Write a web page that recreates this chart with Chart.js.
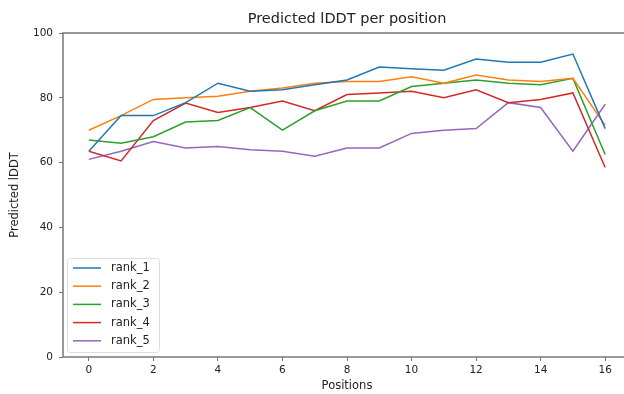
<!DOCTYPE html>
<html>
<head>
<meta charset="utf-8">
<script src="https://cdn.jsdelivr.net/npm/chart.js@4/dist/chart.umd.min.js"></script>
<style>
    html, body { margin: 0; padding: 0; background: #fff; overflow: hidden; }
    #wrap { position: relative; width: 640px; height: 394px; }
</style>
</head>
<body>
<div id="wrap"><canvas id="plddtChart"></canvas></div>
<script>
const positions = [0, 1, 2, 3, 4, 5, 6, 7, 8, 9, 10, 11, 12, 13, 14, 15, 16];
const xTicks = [0, 2, 4, 6, 8, 10, 12, 14, 16];
const yTicks = [0, 20, 40, 60, 80, 100];

const seriesNames = ['rank_1', 'rank_2', 'rank_3', 'rank_4', 'rank_5'];
const rank1 = [63.5, 74.5, 74.5, 78.5, 84.5, 82, 82.5, 84, 85.5, 89.5, 89, 88.5, 92, 91, 91, 93.5, 70.5];
const rank2 = [70, 74.5, 79.5, 80, 80.5, 82, 83, 84.5, 85, 85, 86.5, 84.5, 87, 85.5, 85, 86, 71.5];
const rank3 = [67, 66, 68, 72.5, 73, 77, 70, 76, 79, 79, 83.5, 84.5, 85.5, 84.5, 84, 86, 62.5];
const rank4 = [63.5, 60.5, 73, 78.4, 75.5, 77, 79, 76, 81, 81.5, 82, 80, 82.5, 78.5, 79.5, 81.5, 58.5];
const rank5 = [61, 63.5, 66.5, 64.5, 65, 64, 63.5, 62, 64.5, 64.5, 69, 70, 70.5, 78.5, 77, 63.5, 78];
const colors = ['#1f77b4', '#ff7f0e', '#2ca02c', '#d62728', '#9467bd'];

const titleText = 'Predicted lDDT per position';
const fontFamily = '"DejaVu Sans", sans-serif';

// spines, title and an in-axes legend like matplotlib's "best" placement
const framePlugin = {
    id: 'framePlugin',
    afterDraw(chart) {
        const { ctx, chartArea: a } = chart;
        ctx.save();
        ctx.strokeStyle = '#777';
        ctx.lineWidth = 1.5;
        ctx.strokeRect(a.left, a.top, a.right - a.left, a.bottom - a.top);

        ctx.fillStyle = '#222';
        ctx.font = '14.5px ' + fontFamily;
        ctx.textAlign = 'center';
        ctx.textBaseline = 'middle';
        ctx.fillText(titleText, (a.left + a.right) / 2, 19);

        // legend box
        const bx = a.left + 4, by = 258, bw = 92, bh = 94;
        ctx.fillStyle = 'rgba(255,255,255,0.8)';
        ctx.strokeStyle = '#ddd';
        ctx.lineWidth = 1;
        ctx.beginPath();
        ctx.roundRect(bx + 0.5, by + 0.5, bw, bh, 3);
        ctx.fill();
        ctx.stroke();

        ctx.font = '11.5px ' + fontFamily;
        ctx.textAlign = 'left';
        chart.data.datasets.forEach((ds, i) => {
            const y = by + 10 + i * 18.2;
            ctx.strokeStyle = ds.borderColor;
            ctx.lineWidth = 1.5;
            ctx.beginPath();
            ctx.moveTo(bx + 6, y);
            ctx.lineTo(bx + 34, y);
            ctx.stroke();
            ctx.fillStyle = '#222';
            ctx.fillText(ds.label, bx + 44, y);
        });
        ctx.restore();
    }
};

document.addEventListener('DOMContentLoaded', function () {
    const allSeries = [rank1, rank2, rank3, rank4, rank5];
    const datasets = allSeries.map((vals, i) => ({
        label: seriesNames[i],
        data: positions.map((p, j) => ({ x: p, y: vals[j] })),
        borderColor: colors[i],
        backgroundColor: colors[i],
        borderWidth: 1.5,
        pointRadius: 0,
        tension: 0,
        fill: false
    }));

    const ctx = document.getElementById('plddtChart').getContext('2d');
    new Chart(ctx, {
        type: 'line',
        data: { datasets: datasets },
        options: {
            responsive: true,
            maintainAspectRatio: false,
            animation: false,
            layout: {
                padding: { left: 0, top: 33, right: 9, bottom: 0 }
            },
            plugins: {
                legend: { display: false },
                title: { display: false },
                tooltip: { enabled: false }
            },
            scales: {
                x: {
                    type: 'linear',
                    min: -0.8,
                    max: 16.8,
                    afterBuildTicks: scale => {
                        scale.ticks = xTicks.map(v => ({ value: v }));
                    },
                    afterFit: scale => { scale.height = 37; },
                    grid: { drawOnChartArea: false, tickLength: 4, color: '#777' },
                    border: { display: false },
                    ticks: {
                        padding: 3,
                        color: '#222',
                        maxRotation: 0,
                        font: { family: fontFamily, size: 10.5 }
                    },
                    title: {
                        display: true,
                        text: 'Positions',
                        color: '#222',
                        padding: { top: 0, bottom: 1 },
                        font: { family: fontFamily, size: 11.5 }
                    }
                },
                y: {
                    min: 0,
                    max: 100,
                    afterBuildTicks: scale => {
                        scale.ticks = yTicks.map(v => ({ value: v }));
                    },
                    afterFit: scale => { scale.width = 63; },
                    grid: { drawOnChartArea: false, tickLength: 4, color: '#777' },
                    border: { display: false },
                    ticks: {
                        padding: 6,
                        color: '#222',
                        font: { family: fontFamily, size: 10.5 }
                    },
                    title: {
                        display: true,
                        text: 'Predicted lDDT',
                        color: '#222',
                        padding: { top: 8, bottom: 0 },
                        font: { family: fontFamily, size: 11.5 }
                    }
                }
            }
        },
        plugins: [framePlugin]
    });
});
</script>
</body>
</html>
